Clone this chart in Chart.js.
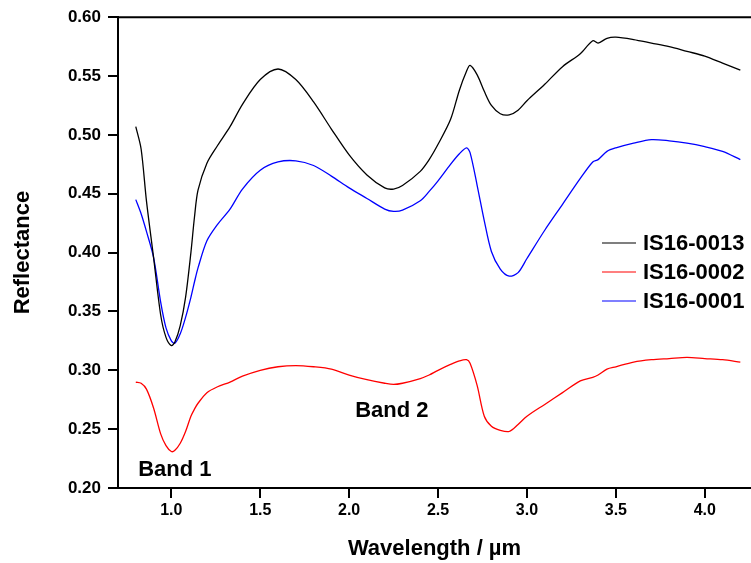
<!doctype html>
<html>
<head>
<meta charset="utf-8">
<title>Reflectance spectra</title>
<script src="https://cdn.jsdelivr.net/npm/chart.js@4/dist/chart.umd.min.js"></script>
<style>
  body { margin: 0; background: #fff; }
  #holder { width: 751px; height: 563px; }
</style>
</head>
<body>
<div id="holder"><canvas id="spectra" width="751" height="563"></canvas></div>
<script>
// wavelength in um
var wavelength = [0.80, 0.83, 0.86, 0.90, 0.94, 0.97, 1.00, 1.02, 1.05, 1.08, 1.11, 1.13, 1.15, 1.20, 1.26, 1.33, 1.40, 1.50, 1.60, 1.70, 1.80,
  1.90, 2.00, 2.10, 2.20, 2.25, 2.30, 2.40, 2.45, 2.50, 2.57, 2.62, 2.66, 2.68, 2.72, 2.76, 2.80, 2.85, 2.90, 2.95, 3.00, 3.10,
  3.20, 3.30, 3.37, 3.40, 3.45, 3.50, 3.60, 3.70, 3.80, 3.90, 4.00, 4.10, 4.20];

var is16_0013 = [0.507, 0.488, 0.444, 0.396, 0.347, 0.328, 0.321, 0.324, 0.338, 0.362, 0.400, 0.430, 0.453, 0.476, 0.491, 0.507, 0.526, 0.547, 0.556, 0.547, 0.528,
  0.505, 0.483, 0.466, 0.455, 0.454, 0.457, 0.469, 0.479, 0.492, 0.513, 0.538, 0.554, 0.559, 0.551, 0.537, 0.525, 0.518, 0.517, 0.521, 0.529, 0.543,
  0.558, 0.569, 0.580, 0.578, 0.582, 0.583, 0.581, 0.578, 0.575, 0.571, 0.567, 0.561, 0.555];

var is16_0002 = [0.290, 0.289, 0.284, 0.268, 0.246, 0.236, 0.231, 0.232, 0.238, 0.248, 0.261, 0.267, 0.272, 0.281, 0.286, 0.290, 0.295, 0.300, 0.303, 0.304, 0.303,
  0.301, 0.296, 0.292, 0.289, 0.288, 0.289, 0.293, 0.296, 0.300, 0.305, 0.308, 0.309, 0.306, 0.287, 0.261, 0.2525, 0.249, 0.248, 0.254, 0.261, 0.271,
  0.281, 0.291, 0.294, 0.296, 0.301, 0.303, 0.307, 0.309, 0.310, 0.311, 0.310, 0.309, 0.307];

var is16_0001 = [0.445, 0.433, 0.418, 0.396, 0.358, 0.336, 0.325, 0.323, 0.331, 0.345, 0.362, 0.375, 0.387, 0.410, 0.424, 0.437, 0.454, 0.470, 0.477, 0.478, 0.474,
  0.465, 0.455, 0.446, 0.437, 0.435, 0.436, 0.444, 0.452, 0.461, 0.475, 0.484, 0.489, 0.485, 0.457, 0.427, 0.401, 0.386, 0.380, 0.383, 0.395, 0.419,
  0.441, 0.463, 0.477, 0.479, 0.486, 0.489, 0.493, 0.496, 0.495, 0.493, 0.490, 0.486, 0.479];

var seriesNames = ['IS16-0013', 'IS16-0002', 'IS16-0001'];
var seriesColors = ['#000000', '#ff0000', '#0000ff'];

// band labels: [text, wavelength, reflectance]
var bandLabels = [['Band 1', 1.02, 0.2157], ['Band 2', 2.24, 0.2654]];

var FONT = '"Liberation Sans", Arial, sans-serif';

function points(ys) {
  return wavelength.map(function (w, i) { return { x: w, y: ys[i] }; });
}

var allSeries = [is16_0013, is16_0002, is16_0001];
var datasets = allSeries.map(function (ys, i) {
  return {
    label: seriesNames[i],
    data: points(ys),
    borderColor: seriesColors[i],
    backgroundColor: seriesColors[i],
    borderWidth: 1.3,
    pointRadius: 0,
    tension: 0.3,
    fill: false
  };
});

var extras = {
  id: 'extras',
  afterDraw: function (chart) {
    var ctx = chart.ctx, area = chart.chartArea;
    var xs = chart.scales.x, ys = chart.scales.y;
    ctx.save();
    // top frame line
    ctx.strokeStyle = '#000';
    ctx.lineWidth = 2;
    ctx.beginPath();
    ctx.moveTo(area.left, area.top);
    ctx.lineTo(area.right, area.top);
    ctx.stroke();

    // legend
    ctx.font = 'bold 22px ' + FONT;
    ctx.textBaseline = 'middle';
    ctx.textAlign = 'left';
    chart.data.datasets.forEach(function (ds, i) {
      var y = 243 + i * 29;
      ctx.strokeStyle = ds.borderColor;
      ctx.lineWidth = 1.2;
      ctx.beginPath();
      ctx.moveTo(602, y);
      ctx.lineTo(636, y);
      ctx.stroke();
      ctx.fillStyle = '#000';
      ctx.fillText(ds.label, 643, y + 1);
    });

    // band labels
    ctx.textAlign = 'center';
    bandLabels.forEach(function (b) {
      ctx.fillText(b[0], xs.getPixelForValue(b[1]), ys.getPixelForValue(b[2]));
    });
    ctx.restore();
  }
};

new Chart(document.getElementById('spectra').getContext('2d'), {
  type: 'line',
  data: { datasets: datasets },
  options: {
    responsive: false,
    animation: false,
    layout: { padding: { top: 17, right: 0, left: 0, bottom: 0 } },
    plugins: {
      legend: { display: false },
      tooltip: { enabled: false }
    },
    scales: {
      x: {
        type: 'linear',
        min: 0.7,
        max: 4.26,
        afterFit: function (s) { s.height = 75; },
        border: { display: true, color: '#000', width: 2 },
        grid: { drawOnChartArea: false, tickLength: 10, color: '#000', lineWidth: 2 },
        ticks: {
          stepSize: 0.5,
          includeBounds: false,
          autoSkip: false,
          maxRotation: 0,
          color: '#000',
          font: { family: FONT, size: 16, weight: 'bold' },
          callback: function (v) { return v.toFixed(1); }
        },
        title: {
          display: true,
          text: 'Wavelength / \u00b5m',
          color: '#000',
          font: { family: FONT, size: 22, weight: 'bold' },
          padding: { top: 0, bottom: 1 }
        }
      },
      y: {
        min: 0.2,
        max: 0.6,
        afterFit: function (s) { s.width = 118; },
        border: { display: true, color: '#000', width: 2 },
        grid: { drawOnChartArea: false, tickLength: 10, color: '#000', lineWidth: 2 },
        ticks: {
          stepSize: 0.05,
          padding: 7,
          color: '#000',
          font: { family: FONT, size: 17, weight: 'bold' },
          callback: function (v) { return v.toFixed(2); }
        },
        title: {
          display: true,
          text: 'Reflectance',
          color: '#000',
          font: { family: FONT, size: 22, weight: 'bold' },
          padding: { top: 10, bottom: 0 }
        }
      }
    }
  },
  plugins: [extras]
});
</script>
</body>
</html>
